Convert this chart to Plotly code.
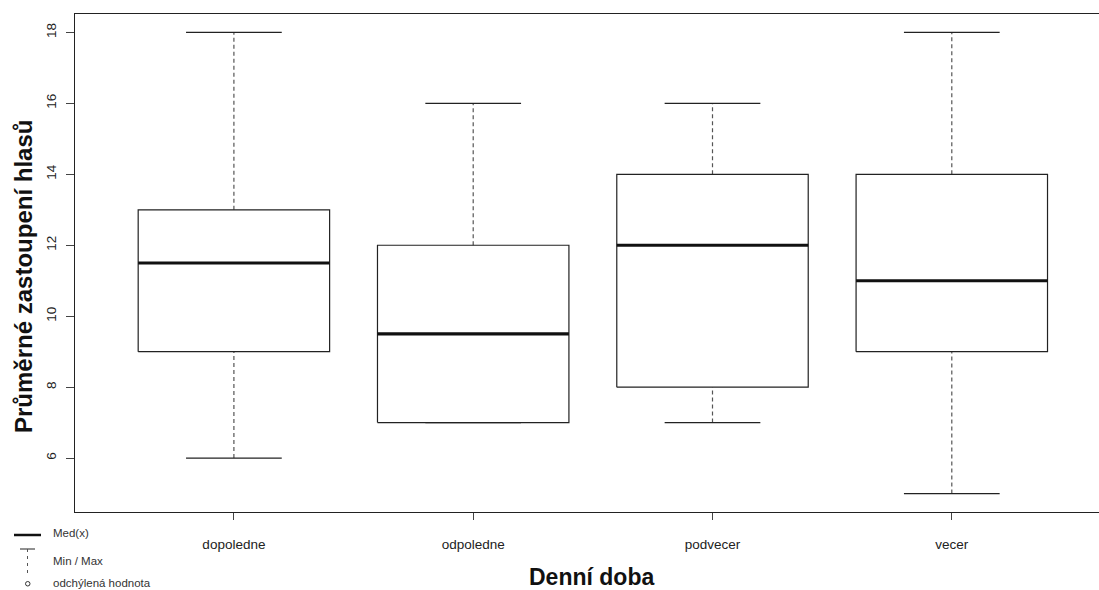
import plotly.graph_objects as go

categories = ["dopoledne", "odpoledne", "podvecer", "vecer"]
mins = [6, 7, 7, 5]
q1s = [9, 7, 8, 9]
medians = [11.5, 9.5, 12, 11]
q3s = [13, 12, 14, 14]
maxs = [18, 16, 16, 18]
y_ticks = [6, 8, 10, 12, 14, 16, 18]

FONT = "Liberation Sans, Arial, sans-serif"
W, H = 1099, 590
L, R, T, B = 75, 0, 14, 78
PW, PH = W - L - R, H - T - B


def px(x):
    return (x - L) / PW


def py(y):
    return (H - B - y) / PH


half = 0.4
cap = 0.2
bx, by, mx, my, wx, wy, cx, cy = [], [], [], [], [], [], [], []
for i, (lo, a, m, b, hi) in enumerate(zip(mins, q1s, medians, q3s, maxs), start=1):
    bx += [i - half, i + half, i + half, i - half, i - half, None]
    by += [a, a, b, b, a, None]
    mx += [i - half, i + half, None]
    my += [m, m, None]
    wx += [i, i, None, i, i, None]
    wy += [b, hi, None, lo, a, None]
    cx += [i - cap, i + cap, None, i - cap, i + cap, None]
    cy += [hi, hi, None, lo, lo, None]

fig = go.Figure()
fig.add_trace(go.Scatter(x=wx, y=wy, mode="lines", line=dict(color="#555555", width=1.2, dash="4px,3px"), hoverinfo="skip"))
fig.add_trace(go.Scatter(x=cx, y=cy, mode="lines", line=dict(color="#222222", width=1.2), hoverinfo="skip"))
fig.add_trace(go.Scatter(x=bx, y=by, mode="lines", line=dict(color="#222222", width=1.2), hoverinfo="skip"))
fig.add_trace(go.Scatter(x=mx, y=my, mode="lines", line=dict(color="#111111", width=3.2), hoverinfo="skip"))

shapes = [
    # white strip hiding the right edge of the plot frame (R's plot region runs past the window)
    dict(type="rect", xref="paper", yref="paper", x0=px(1090), x1=1.02, y0=py(510.5), y1=py(15.5),
         fillcolor="white", line=dict(width=0), layer="above"),
    dict(type="line", xref="paper", yref="paper", x0=px(14), x1=px(41), y0=py(535), y1=py(535),
         line=dict(color="#111111", width=2.5)),
    dict(type="line", xref="paper", yref="paper", x0=px(20), x1=px(35), y0=py(549), y1=py(549),
         line=dict(color="#222222", width=1)),
    dict(type="line", xref="paper", yref="paper", x0=px(27.5), x1=px(27.5), y0=py(549), y1=py(574),
         line=dict(color="#555555", width=1, dash="3px,4px")),
    dict(type="circle", xref="paper", yref="paper", x0=px(25.5), x1=px(30), y0=py(581.5), y1=py(586),
         line=dict(color="#333333", width=1)),
]

annotations = [
    dict(text="Med(x)", x=px(51), y=py(533), xref="paper", yref="paper", xanchor="left", yanchor="middle",
         showarrow=False, font=dict(family=FONT, size=11.5, color="#333333")),
    dict(text="Min / Max", x=px(51), y=py(561), xref="paper", yref="paper", xanchor="left", yanchor="middle",
         showarrow=False, font=dict(family=FONT, size=11.5, color="#333333")),
    dict(text="odchýlená hodnota", x=px(51), y=py(583), xref="paper", yref="paper", xanchor="left", yanchor="middle",
         showarrow=False, font=dict(family=FONT, size=11.5, color="#333333")),
    dict(text="<b>Denní doba</b>", x=px(591), y=py(577), xref="paper", yref="paper", xanchor="center", yanchor="middle",
         showarrow=False, font=dict(family=FONT, size=23, color="#111111")),
    dict(text="<b>Průměrné zastoupení hlasů</b>", x=px(23), y=py(277), xref="paper", yref="paper", xanchor="center",
         yanchor="middle", textangle=-90, showarrow=False, font=dict(family=FONT, size=24, color="#111111")),
]

fig.update_layout(
    width=W, height=H,
    margin=dict(l=L, r=R, t=T, b=B),
    paper_bgcolor="white", plot_bgcolor="white",
    showlegend=False,
    shapes=shapes,
    annotations=annotations,
    font=dict(family=FONT, color="#222222"),
)
fig.update_xaxes(
    range=[0.336, 0.336 + PW / 239.3],
    tickmode="array", tickvals=[1, 2, 3, 4], ticktext=categories,
    showline=True, linecolor="#222222", linewidth=1.2, mirror=True,
    ticks="outside", ticklen=7, tickcolor="#444444", tickwidth=1,
    showgrid=False, zeroline=False,
    tickfont=dict(family=FONT, size=13.5, color="#222222"),
    ticklabelstandoff=13,
)
fig.update_yaxes(
    range=[4.48, 18.52],
    tickmode="array", tickvals=y_ticks,
    showline=True, linecolor="#222222", linewidth=1.2, mirror=False,
    ticks="outside", ticklen=8, tickcolor="#444444", tickwidth=1,
    showgrid=False, zeroline=False,
    tickangle=-90,
    tickfont=dict(family=FONT, size=13.5, color="#222222"),
    ticklabelstandoff=5,
)

fig.write_html("out.html", config={"displayModeBar": False})
